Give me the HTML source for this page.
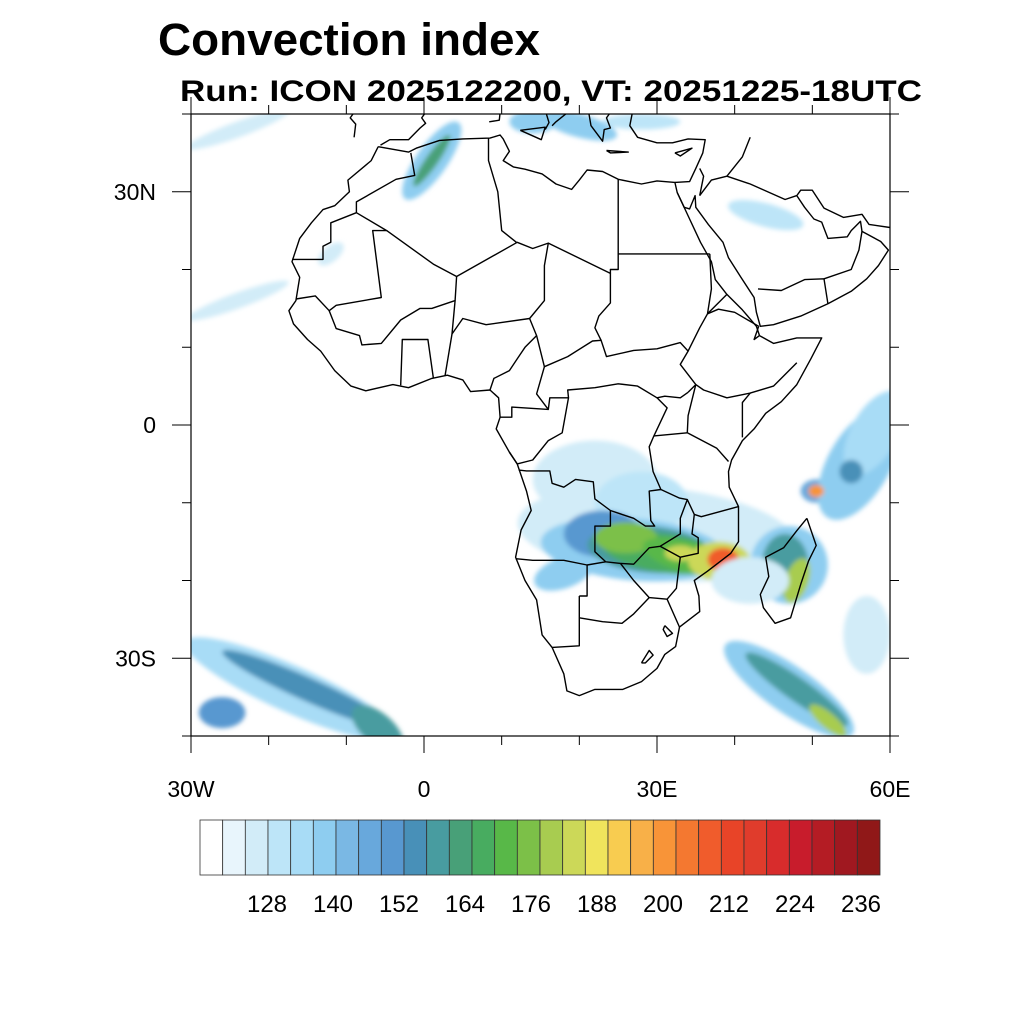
<!DOCTYPE html>
<html><head><meta charset="utf-8"><style>
html,body{margin:0;padding:0;background:#fff}
svg{display:block}
text{font-family:"Liberation Sans",sans-serif}
</style></head><body>
<svg id="chart" width="1024" height="1024" viewBox="0 0 1024 1024" xmlns="http://www.w3.org/2000/svg">
<text x="158" y="55" font-size="45" font-weight="bold" textLength="382" lengthAdjust="spacingAndGlyphs">Convection index</text>
<text x="180" y="101" font-size="30" font-weight="bold" textLength="742" lengthAdjust="spacingAndGlyphs">Run: ICON 2025122200,  VT: 20251225-18UTC</text>
<defs><clipPath id="mapclip"><rect x="191" y="114" width="699" height="622"/></clipPath>
<filter id="soft"><feGaussianBlur stdDeviation="2.5"/></filter></defs>
<g id="fields" clip-path="url(#mapclip)" filter="url(#soft)"></g>
<g id="coast" clip-path="url(#mapclip)"></g>
<rect x="191" y="114" width="699" height="622" fill="none" stroke="#000" stroke-width="1.2"/>
<g id="axes"></g>
<g id="cbar"></g>
</svg>
<script>
const colors=['#ffffff','#e8f5fc','#d2ecf8','#bde5f8','#a8dcf6','#8ecdf0','#7ab8e4','#68a8dc','#5898d0','#4890b8','#489ca0','#48a078','#48ac60','#58b848','#7cc048','#a8cc50','#ccd858','#f0e45c','#f8cc50','#f8b048','#f89438','#f47830','#f05c2c','#e84428','#e03c2c','#d82c2c','#c81c2c','#b41c24','#a01820','#901818'];
const cbarLabels=[128,140,152,164,176,188,200,212,224,236];
const lonTicks=[-30,0,30,60];
const lonTickLabels=['30W','0','30E','60E'];
const latTicks=[30,0,-30];
const latTickLabels=['30N','0','30S'];
// convection blobs (map units: deg lon/lat, radii in deg, rotation deg, index value)
const blobLon=[30,22,28,27,23,29,31,26,34,38,38.5,33,47,46.5,48,18,50.5,56,58,55,50.5,42,-17,-15,-26,-6,47,48,52,1,1,14,20,28,44,-24,-24,-12,57];
const blobLat=[-14,-7,-10,-16,-14,-16,-16.5,-14.5,-17,-17.5,-17.3,-16.5,-18,-18,-20,-19,-8.5,-5,-1,-6,-8.5,-20,-34,-34,-37,-39,-34,-34,-38,34,34,39,38.5,39,27,16,38,22,-27];
const blobRx=[18,8,6,12,5,8,8,4,6,4,2,2,5,3,1.5,4,2,4,3,1.5,1,5,15,12,3,4,10,8,3,6,4,3,5,5,5,7,7,2,3];
const blobRy=[6,5,4,4,3,3,2.5,2,2,2.5,1.5,1,5,4,3,2,1.5,8,6,1.5,0.8,3,3,1.5,2,2,3,1.5,1,2,0.8,1.5,1.5,1,1.5,1,1,1,5];
const blobRot=[-5,0,0,-5,0,-5,-8,0,-15,0,0,0,0,0,-20,20,0,-30,-30,0,0,0,-24,-24,0,-40,-35,-35,-40,55,55,0,-15,0,-15,20,20,40,0];
const blobVal=[124,124,128,138,148,156,164,172,170,182,204,182,138,156,176,138,146,136,132,152,198,126,134,154,150,158,136,158,178,138,160,138,138,128,130,126,126,126,126];

const X=lon=>191+(lon+30)*699/90;
const Y=lat=>425-lat*622/80;
const ns='http://www.w3.org/2000/svg';
function mk(tag,attrs,parent){const e=document.createElementNS(ns,tag);for(const k in attrs)e.setAttribute(k,attrs[k]);parent.appendChild(e);return e;}
function colorFor(v){let i=Math.floor((v-116)/4);i=Math.max(0,Math.min(29,i));return colors[i];}

const fg=document.getElementById('fields');
for(let i=0;i<blobLon.length;i++){
  const cx=X(blobLon[i]),cy=Y(blobLat[i]);
  const el=mk('ellipse',{cx:cx,cy:cy,rx:blobRx[i]*699/90,ry:blobRy[i]*622/80,fill:colorFor(blobVal[i]),transform:`rotate(${-blobRot[i]} ${cx} ${cy})`},fg);
  
  
}

const lines=[
 [[-5.9,35.8],[-6.8,34],[-9.8,31.5],[-9.6,30],[-11.5,28.2],[-13,27.7],[-14.5,26],[-16,24],[-17,21],[-16,19],[-16.5,16],[-17.4,14.7],[-16.8,13],[-15,11],[-13.3,9.5],[-11.5,7],[-9.4,5],[-7.5,4.4],[-4,5.2],[-2,4.8],[1,6],[3,6.4],[5,5.8],[6,4.3],[8.5,4.5],[9.6,3.5],[9.8,1],[9.3,-0.5],[11,-3.5],[12,-5],[13.2,-8.5],[13.8,-11],[12.5,-13.5],[11.8,-17],[13,-20],[14.5,-22.5],[15.2,-27],[16.5,-28.6],[18,-32],[18.4,-34.2],[20,-34.8],[22,-34],[25.6,-34],[28,-33],[30,-31.3],[31,-29.5],[32.4,-28.5],[32.9,-26],[35.5,-24],[35.4,-22],[34.8,-20],[36.5,-18.8],[39.5,-16.5],[40.5,-15],[40.5,-10.5],[39.3,-8],[39.2,-6],[39.6,-4.5],[41,-2],[42.5,-0.5],[44,1.5],[46,3],[48,5.2],[49.8,8.5],[51.2,11.2],[48,11.2],[45,10.5],[43.2,11.5],[42.8,12.7],[41,14.8],[39,16.8],[37.5,18.7],[37,21],[35.6,23.5],[34.2,26.5],[32.6,29.9],[32.3,31.2],[30,31.4],[28,31],[25,31.6],[23,32.6],[21,32.8],[20,31.5],[19,30.3],[17,31],[15.2,32.3],[13,32.9],[11.5,33.2],[10.2,34],[11,35.2],[10.2,36.8],[9.8,37.3],[8.5,36.9],[5,36.8],[2,36.6],[-1,35.6],[-2,35.1],[-5.9,35.8]],
 [[32.3,31.2],[34.2,31.3],[35,33],[35.9,35],[36.2,36.7],[34,36.8],[32,36.3],[30,36.3],[27.5,37],[26.5,38.5],[26.8,40]],
 [[32.6,29.9],[33.5,28],[34.2,27.8],[34.9,29.5],[35,28],[36.6,25.8],[38.5,23.5],[39.2,21.5],[40.8,19],[42.5,16.4],[42.8,14.5],[43.3,12.7],[45,12.9],[48.5,14],[52,15.6],[55,17.2],[57,18.8],[58.5,20.5],[59.8,22.5],[58.8,23.6],[56.4,24.9],[56.2,26.2],[55,25],[54.5,24.2],[52,24],[51.5,25.3],[51.2,26.1],[50.2,26.5],[49,28],[48,29.5],[48.5,30.2],[50,30.2],[51.5,27.9],[54,26.7],[56.4,27.1],[57.3,25.8],[60,25.4]],
 [[49.3,-12],[50.5,-15.5],[49.5,-17.5],[48.5,-20.5],[47.2,-24.8],[45.2,-25.5],[43.7,-23.5],[43.3,-21.8],[44.4,-19.5],[44,-17],[46.3,-15.8],[48,-13.6],[49.3,-12]],
 [[-9,37],[-8.8,38.7],[-9.5,39.5],[-9,40.2]],[[-5.6,36],[-4.4,36.7],[-2,36.7],[-0.5,38.2],[0.2,38.8],[-0.3,39.5],[0.2,40.2]],
 [[15.6,38],[16.1,38.9],[15.7,40.2]],[[18.5,40.2],[17,39],[16.5,38.5]],[[12.4,37.9],[15.6,38.3],[15.1,36.7],[12.4,37.9]],
 [[8.4,39],[9.7,39.2],[9.8,40.2]],[[23.5,35.3],[26.3,35.1],[24,35],[23.5,35.3]],[[32.3,35],[34.5,35.6],[33,34.6],[32.3,35]],
 [[21.2,40.2],[21.5,38.5],[23,36.5],[23.2,38],[24,38.2],[23.5,39.5],[24,40.2]],
 [[-1.7,35],[-1.2,32.1],[-3.6,31.6],[-8.7,28.7],[-8.7,27.3],[-12,26],[-12,23.5],[-13,23],[-13,21.3],[-17,21.3]],
 [[-8.7,27.3],[-4.8,25],[-6.6,25],[-5.5,16.4],[-11.3,15.4],[-12.2,14.7],[-14,16.6],[-16.5,16.2]],
 [[-4.8,25],[1.2,20.7],[4.2,19.1],[12,23.5],[14,22.7],[16,23.4],[24,19.5],[24,20],[25,20],[25,22],[36.8,22]],
 [[25,31.6],[25,22]],[[8.3,36.9],[8.3,34],[9.5,30],[10,25],[11.9,23.5]],
 [[4.2,19.1],[4,16],[1,15],[-0.5,15],[-3,13.5],[-5.5,10.5],[-8,10.3],[-8.3,11.5],[-11.3,12.4],[-12.2,14.7]],
 [[4,16],[3.6,11.7],[5,13.7],[8,12.9],[13.6,13.7],[15.5,16],[15.5,20.5],[16,23.4]],
 [[13.6,13.7],[14.5,11.5],[15.5,7.5],[18.5,8.8],[21.7,10.8],[22.8,10.9],[23.5,8.8],[27,9.6],[30,9.8],[33,10.6],[34,9.5],[33,7.8],[35,5.2],[34,4.2]],
 [[24,19.5],[24,15.7],[22.5,14],[22,12.5],[22.8,10.9]],
 [[36.8,22],[37,17.5],[36.5,14.3],[35.5,12.5],[34,9.5]],[[36.5,14.3],[37.9,14.9],[40,14.5],[43.1,12.7]],
 [[35,5.2],[36,4.5],[39,3.5],[41,3.9],[42,4.1],[45,5],[48,8]],[[41,-1.6],[41,2.9],[42,4.1]],
 [[34,4.2],[33,3.5],[31,3.7],[30,3.5],[31.3,2.2],[29.6,-1.4],[29,-2.8],[29.5,-6],[30.5,-8.3],[32.9,-9.4],[33.9,-9.6],[34.8,-11.5],[35.7,-11.8],[40.5,-10.5]],
 [[33.9,-1],[37.7,-3],[39.2,-4.7]],[[33.9,-1],[34,1.2],[35,5.2]],[[29.6,-1.4],[33.9,-1]],
 [[15.5,7.5],[14.5,4],[16,2],[16.2,3.5],[18.6,3.5],[18.5,4.5],[22,4.8],[25,5.3],[27.5,5],[30,3.5]],
 [[8.5,4.5],[9,6],[11,7],[12,8.5],[13,10],[14.5,11.5]],[[2.7,6.3],[3.6,11.7]],[[1.2,6.1],[0.5,11],[-2.8,11],[-3,5.1]],
 [[9.8,1],[11.3,1],[11.3,2.3],[16,2]],[[11,-3.5],[12,-5],[14,-4.5],[16,-2],[17.8,-1],[18.6,3.5]],
 [[12.2,-5.8],[13.2,-5.9],[16.2,-5.9],[16.5,-7.5],[18,-8],[19.5,-7],[21.8,-7.3],[22,-9.5],[24,-11],[24,-13],[22,-13],[22,-16.3],[23.4,-17.6],[25.3,-17.8],[27,-17.9],[29,-15.8],[30.4,-15.6],[33,-14],[33,-12],[33.9,-9.6]],
 [[24,-11],[25.5,-11.5],[27,-12],[28.5,-13],[29.7,-13],[29.2,-12.3],[29,-8.5],[30.5,-8.3]],
 [[11.8,-17.2],[14,-17.4],[18,-17.4],[21,-18],[23.4,-17.6]],[[20,-22],[20,-24.8],[20,-28.4],[16.5,-28.6]],[[21,-18],[21,-22],[20,-22]],
 [[25.3,-17.8],[27,-20],[29,-22.2],[31.3,-22.4],[32.9,-26]],[[29,-22.2],[27,-24.3],[25.5,-25.5],[23,-25.3],[20,-24.8]],
 [[31.3,-22.4],[32.5,-21],[32.8,-18.5],[33,-17],[30.4,-15.6]],[[33,-17],[35.3,-16.5],[35.3,-14.5],[34.5,-14],[34.8,-11.5]],
 [[28,-30.6],[29,-29],[29.5,-29.6],[28.5,-30.6],[28,-30.6]],[[31,-25.8],[32,-26.8],[31.3,-27.2],[30.8,-26.3],[31,-25.8]],
 [[35.5,33],[36,32],[35.5,29.5]],[[35.5,29.5],[37,31.5],[39,32],[42,31],[46.5,29],[48,29.5]],[[39,32],[41,34.5],[42,37]],
 [[36.5,14.3],[39,16.8]],[[43.1,12.7],[42.5,11],[43.2,11.5]],[[51.5,18.8],[55,20],[56,22.5],[56.4,24.9]],[[43,17.5],[46,17.3],[49,18.7],[51.5,18.8],[52,15.6]]
];
const cg=document.getElementById('coast');
lines.forEach(pts=>{
  const el=mk('polyline',{points:pts.map(p=>X(p[0]).toFixed(1)+','+Y(p[1]).toFixed(1)).join(' '),fill:'none',stroke:'#000','stroke-width':1.4,'stroke-linejoin':'round'},cg);
  
  
});

const ax=document.getElementById('axes');
for(let lon=-30;lon<=60;lon+=10){
  const major=lonTicks.includes(lon);const x=X(lon);const L=major?17:9;
  [[114,114-L],[736,736+L]].forEach(s=>{const t=mk('line',{x1:x,x2:x,y1:s[0],y2:s[1],stroke:'#000','stroke-width':1},ax);
  
  });
}
for(let lat=-40;lat<=40;lat+=10){
  const major=latTicks.includes(lat);const y=Y(lat);const L=major?19:9;
  [[191,191-L],[890,890+L]].forEach(s=>{const t=mk('line',{x1:s[0],x2:s[1],y1:y,y2:y,stroke:'#000','stroke-width':1},ax);
  
  });
}
lonTicks.forEach((lon,i)=>{const t=mk('text',{x:X(lon),y:797,'font-size':23,'text-anchor':'middle'},ax);t.textContent=lonTickLabels[i];
  
  });
latTicks.forEach((lat,i)=>{const t=mk('text',{x:156,y:Y(lat)+8,'font-size':23,'text-anchor':'end'},ax);t.textContent=latTickLabels[i];
  
  });

const cb=document.getElementById('cbar');
const bw=680/colors.length;
colors.forEach((c,i)=>{const r=mk('rect',{x:200+i*bw,y:820,width:bw,height:55,fill:c,stroke:'#333','stroke-width':0.8},cb);
  
  });
cbarLabels.forEach((v,i)=>{const t=mk('text',{x:267+i*66,y:912,'font-size':24,'text-anchor':'middle'},cb);t.textContent=v;
  
  });
</script>
</body></html>
